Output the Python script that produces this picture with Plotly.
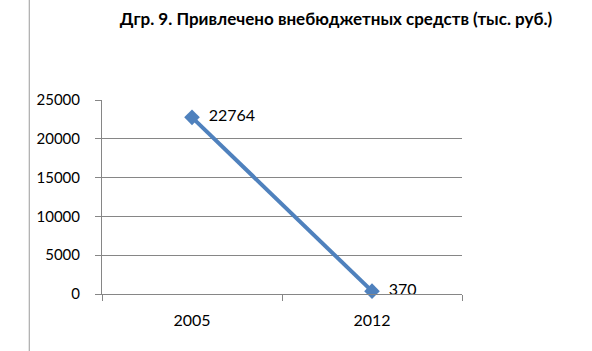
import plotly.graph_objects as go

years = ["2005", "2012"]
values = [22764, 370]
y_ticks = [0, 5000, 10000, 15000, 20000, 25000]
y_tick_labels = ["0", "5000", "10000", "15000", "20000", "25000"]
title_text = "Дгр. 9. Привлечено внебюджетных средств (тыс. руб.)"

fig = go.Figure()
fig.add_trace(go.Scatter(
    x=years, y=values,
    mode="lines+markers+text",
    text=["  " + str(v) for v in values],
    textposition="middle right",
    textfont=dict(family="Lato", size=16, color="#000000"),
    line=dict(color="#4F81BD", width=4),
    marker=dict(symbol="diamond", size=12, color="#4F81BD"),
    cliponaxis=False,
    showlegend=False,
))

fig.update_layout(
    width=592, height=351,
    margin=dict(l=102, r=130, t=100, b=57),
    paper_bgcolor="white", plot_bgcolor="white",
    font=dict(family="Lato", size=15, color="#000000"),
    title=dict(text="<b>" + title_text + "</b>", x=336/592, xanchor="center",
               y=1 - 19/351, yanchor="middle",
               font=dict(family="Lato", size=17, color="#000000")),
    xaxis=dict(type="category", range=[-0.5, 1.5], showgrid=False,
               showline=True, linecolor="#868686", linewidth=1,
               ticks="outside", tickson="boundaries", ticklen=6, tickcolor="#868686",
               ticklabelstandoff=12, tickfont=dict(size=16)),
    yaxis=dict(range=[0, 25000], tickvals=y_ticks, ticktext=y_tick_labels,
               showgrid=True, gridcolor="#868686", gridwidth=1,
               showline=True, linecolor="#868686", linewidth=1,
               ticks="outside", ticklen=6, tickcolor="#868686",
               zeroline=False, tickfont=dict(size=15), ticklabelstandoff=12),
    shapes=[dict(type="line", xref="paper", yref="paper", x0=-99/490, x1=-99/490,
                 y0=-57/194, y1=100/194 + 1, line=dict(color="#9a9a9a", width=1))],
)

fig.write_html("out.html")
